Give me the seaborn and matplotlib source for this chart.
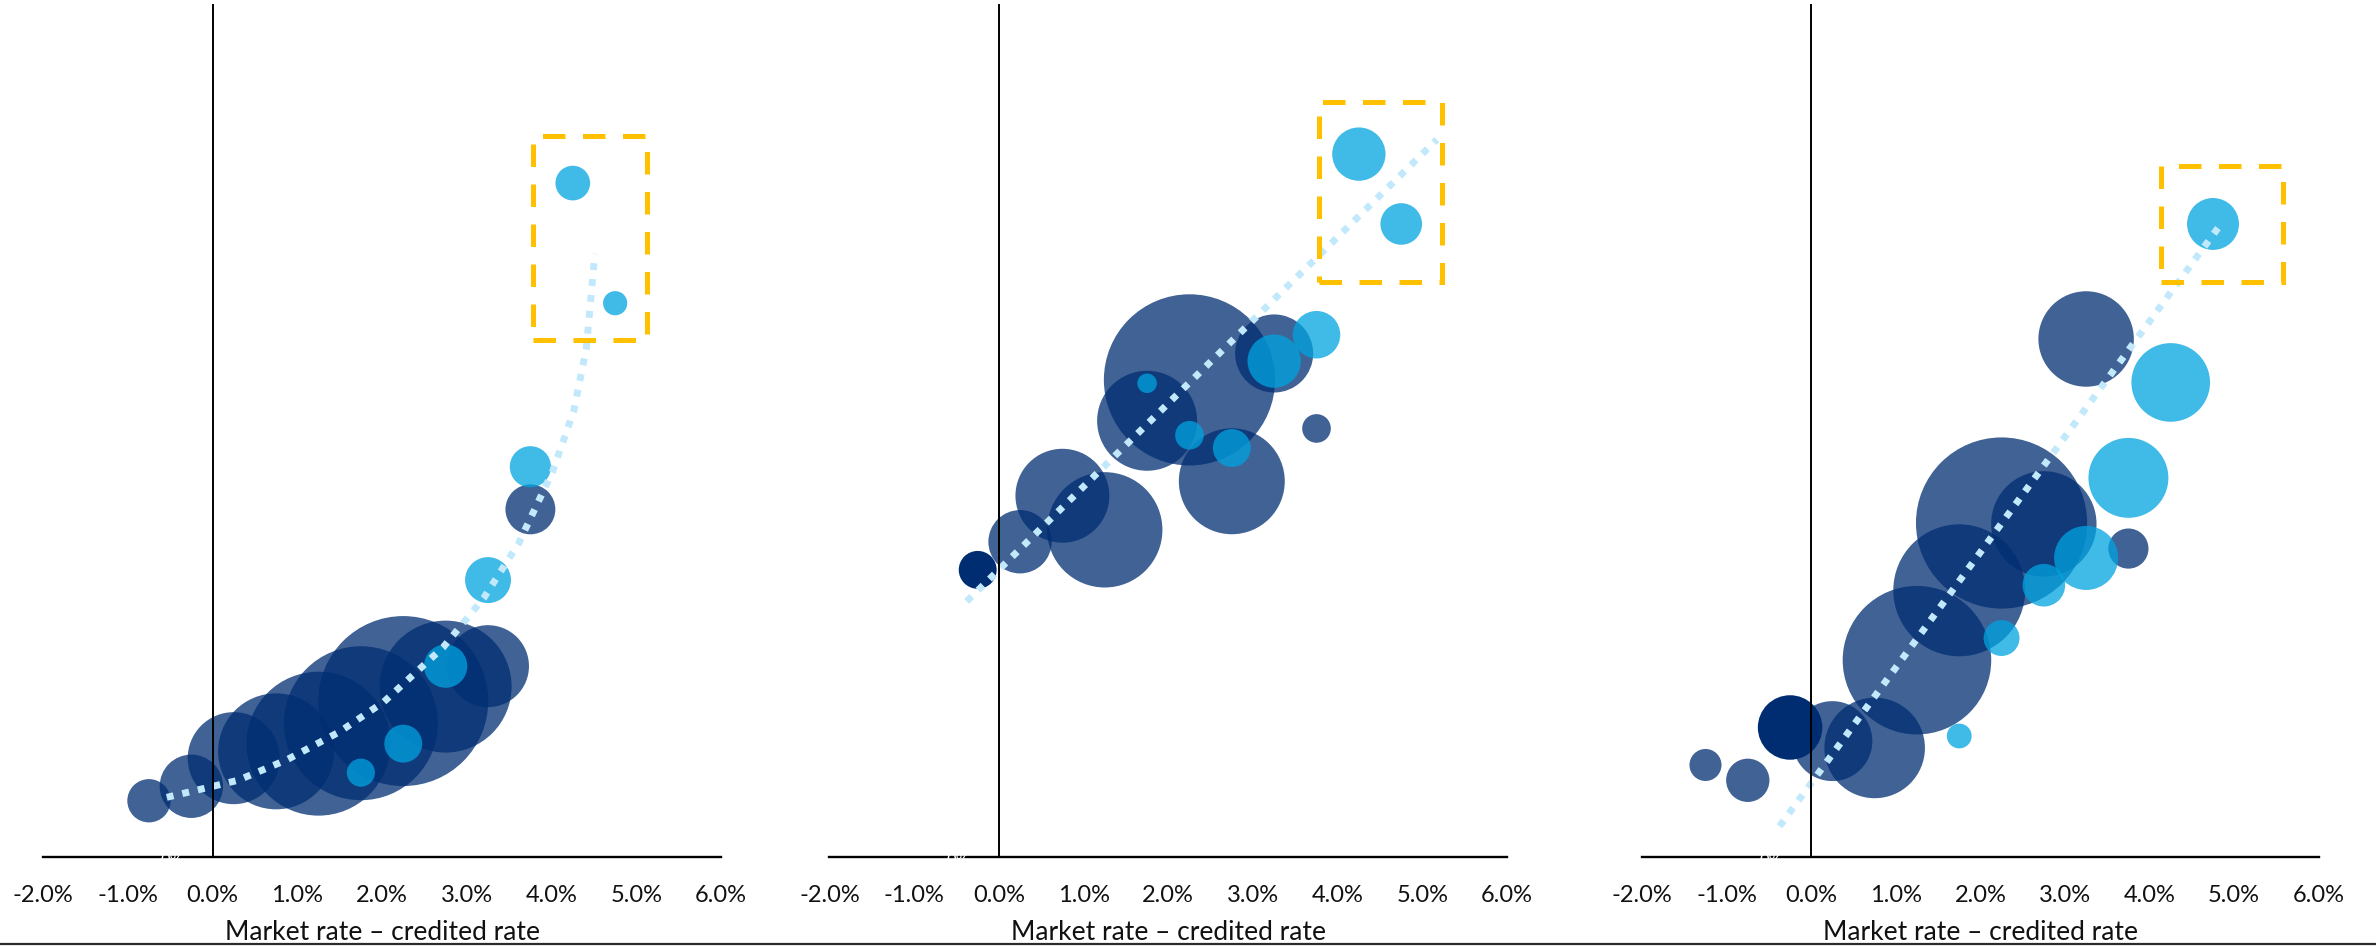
import numpy as np
import pandas as pd
import matplotlib
matplotlib.use("Agg")
import matplotlib.pyplot as plt
from matplotlib.patches import Rectangle
from matplotlib.lines import Line2D
import seaborn as sns

# ---------------------------------------------------------------------------
# Data: spread buckets (market rate - credited rate, %), lapse level and
# bubble size (relative account value) for three product blocks.
# ---------------------------------------------------------------------------
x_tick_values = [-2, -1, 0, 1, 2, 3, 4, 5, 6]
x_tick_labels = ["-2.0%", "-1.0%", "0.0%", "1.0%", "2.0%", "3.0%", "4.0%", "5.0%", "6.0%"]
x_axis_title = "Market rate \u2013 credited rate"

# Block 1
spread_dark_1 = [-0.75, -0.25, 0.25, 0.75, 1.25, 1.75, 2.25, 2.75, 3.25, 3.75]
lapse_dark_1 = [6.6, 8.3, 11.6, 12.4, 13.3, 15.7, 18.3, 20.0, 22.4, 40.8]
size_dark_1 = [6.4, 13.7, 28.9, 45.9, 70.7, 80.9, 98.6, 59.4, 22.9, 8.5]
spread_light_1 = [1.75, 2.25, 2.75, 3.25, 3.75, 4.25, 4.75]
lapse_light_1 = [9.9, 13.3, 22.4, 32.5, 45.8, 79.1, 65.0]
size_light_1 = [2.7, 4.9, 6.4, 7.2, 5.8, 4.1, 2.0]
spread_solid_1 = []
lapse_solid_1 = []
size_solid_1 = []
trend_x_1 = [-0.54, 0.3, 0.875, 1.5, 2.02, 2.72, 3.2, 3.61, 4.01, 4.26, 4.41, 4.51]
trend_y_1 = [7.0, 9.0, 11.4, 14.7, 18.2, 24.6, 30.4, 36.8, 45.2, 52.3, 59.7, 70.8]
box_1 = [3.78, 60.7, 5.13, 84.6]  # x0, y0, x1, y1

# Block 2
spread_dark_2 = [0.25, 0.75, 1.25, 1.75, 2.25, 2.75, 3.25, 3.75]
lapse_dark_2 = [37.0, 42.4, 38.4, 51.2, 56.0, 44.1, 59.1, 50.3]
size_dark_2 = [13.7, 30.1, 45.4, 34.1, 100.0, 38.3, 20.8, 2.8]
spread_light_2 = [1.75, 2.25, 2.75, 3.25, 3.75, 4.25, 4.75]
lapse_light_2 = [55.6, 49.5, 48.0, 58.2, 61.3, 82.5, 74.3]
size_light_2 = [1.3, 2.8, 4.9, 9.7, 7.7, 9.7, 5.9]
spread_solid_2 = [-0.25]
lapse_solid_2 = [33.7]
size_solid_2 = [4.9]
trend_x_2 = [-0.38, 5.17]
trend_y_2 = [30.0, 84.2]
box_2 = [3.78, 67.5, 5.23, 88.6]

# Block 3
spread_dark_3 = [-1.25, -0.75, 0.25, 0.75, 1.25, 1.75, 2.25, 2.75, 3.25, 3.75]
lapse_dark_3 = [10.8, 9.0, 13.6, 12.8, 23.1, 31.3, 39.2, 39.1, 60.8, 36.2]
size_dark_3 = [3.5, 6.4, 21.8, 34.5, 75.3, 59.4, 100.0, 37.9, 31.1, 5.5]
spread_light_3 = [1.75, 2.25, 2.75, 3.25, 3.75, 4.25, 4.75]
lapse_light_3 = [14.2, 25.7, 31.9, 35.1, 44.5, 55.7, 74.3]
size_light_3 = [2.1, 4.4, 6.2, 14.0, 21.8, 21.1, 9.2]
spread_solid_3 = [-0.25]
lapse_solid_3 = [15.2]
size_solid_3 = [14.2]
trend_x_3 = [-0.375, 4.866]
trend_y_3 = [3.6, 74.6]
box_3 = [4.13, 67.5, 5.58, 81.1]

# ---------------------------------------------------------------------------
# Styling
# ---------------------------------------------------------------------------
DARK = "#002D72"
LIGHT = "#00A3E0"
TREND = "#C2E9FB"
HIGHLIGHT = "#FFC000"
SIZE_MAX_VALUE = 100.0
AREA_MAX = 15190.0  # marker area (pt^2) for SIZE_MAX_VALUE

sns.set_theme(style="white")
plt.rcParams["font.family"] = ["Lato", "DejaVu Sans"]

fig = plt.figure(figsize=(23.76, 9.46), dpi=100)

axes_rects = [
    [0.0181, 0.0941, 0.2854, 0.9006],
    [0.3491, 0.0941, 0.2852, 0.9006],
    [0.6911, 0.0941, 0.2848, 0.9006],
]

blocks = [
    (spread_dark_1, lapse_dark_1, size_dark_1, spread_light_1, lapse_light_1, size_light_1,
     spread_solid_1, lapse_solid_1, size_solid_1, trend_x_1, trend_y_1, box_1),
    (spread_dark_2, lapse_dark_2, size_dark_2, spread_light_2, lapse_light_2, size_light_2,
     spread_solid_2, lapse_solid_2, size_solid_2, trend_x_2, trend_y_2, box_2),
    (spread_dark_3, lapse_dark_3, size_dark_3, spread_light_3, lapse_light_3, size_light_3,
     spread_solid_3, lapse_solid_3, size_solid_3, trend_x_3, trend_y_3, box_3),
]


def draw_bubbles(ax, xs, ys, ss, color, alpha, z):
    if len(xs) == 0:
        return
    df = pd.DataFrame({"spread": xs, "lapse": ys, "size": ss})
    sns.scatterplot(
        data=df, x="spread", y="lapse", size="size",
        sizes=(0, AREA_MAX), size_norm=(0, SIZE_MAX_VALUE),
        color=color, alpha=alpha, linewidth=0, edgecolor="none",
        legend=False, ax=ax, zorder=z,
    )


for rect, blk in zip(axes_rects, blocks):
    (sdx, ldy, szd, slx, lly, szl, ssx, lsy, szs, tx, ty, box) = blk
    ax = fig.add_axes(rect)

    draw_bubbles(ax, sdx, ldy, szd, DARK, 0.75, 2)
    draw_bubbles(ax, ssx, lsy, szs, DARK, 1.0, 2)
    draw_bubbles(ax, slx, lly, szl, LIGHT, 0.75, 3)

    trend_df = pd.DataFrame({"spread": tx, "lapse": ty})
    sns.lineplot(
        data=trend_df, x="spread", y="lapse", sort=False, estimator=None,
        color=TREND, linewidth=5.0, linestyle=(0, (1.0, 1.3)),
        ax=ax, zorder=4,
    )

    ax.add_patch(Rectangle(
        (box[0], box[1]), box[2] - box[0], box[3] - box[1],
        fill=False, edgecolor=HIGHLIGHT, linewidth=3.6,
        linestyle=(0, (4.5, 3.5)), zorder=5,
    ))

    ax.set_xlim(-2, 6)
    ax.set_ylim(0, 100)
    ax.set_xticks(x_tick_values)
    ax.set_xticklabels(x_tick_labels)
    ax.set_yticks([])
    ax.tick_params(axis="x", length=0, pad=20, labelsize=17, labelcolor="#111111")
    ax.set_xlabel(x_axis_title, fontsize=19, color="#111111", labelpad=10)
    ax.set_ylabel("")

    for side in ("top", "right"):
        ax.spines[side].set_visible(False)
    ax.spines["bottom"].set_color("black")
    ax.spines["bottom"].set_linewidth(1.7)
    ax.spines["bottom"].set_zorder(6)
    ax.spines["left"].set_position(("data", 0))
    ax.spines["left"].set_color("black")
    ax.spines["left"].set_linewidth(1.4)
    ax.spines["left"].set_zorder(6)
    ax.patch.set_alpha(0)

    # faint axis origin label sitting on the baseline
    ax.text(-0.48, 0.45, "0%", color="white", fontsize=12, ha="center", va="top", zorder=7)

# rule along the bottom edge of the figure
fig.add_artist(Line2D([0, 1], [0.0026, 0.0026], transform=fig.transFigure,
                      color="#2b2b2b", linewidth=1.6))

fig.savefig("out.png", dpi=100)
